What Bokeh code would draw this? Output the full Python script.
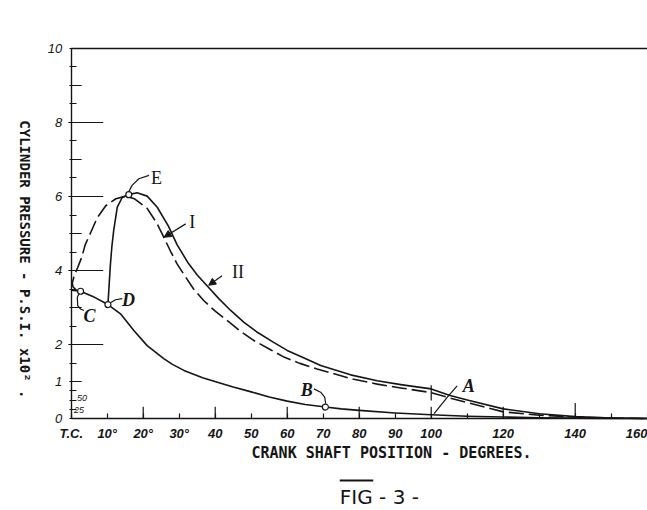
import math
from bokeh.plotting import figure
from bokeh.models import FixedTicker, Label, Arrow, NormalHead
from bokeh.embed import file_html
from bokeh.resources import INLINE
from bokeh.core.properties import value

# ---------------- data ----------------
# Curve I (dashed)
curve1_deg = [1.4, 0.5, 0.3, 0.8, 1.8, 2.9, 3.9, 5.3, 7.2, 9.6, 12.4, 15.2, 17.5, 21.1,
              23.9, 25.7, 27.6, 29.4, 31.8, 34, 36.8, 40, 43.3, 47, 50.7, 55, 59.1, 63.5,
              68.3, 77.6, 85, 92, 100, 105, 110, 120, 130, 140, 150, 160]
curve1_psi = [3.47, 3.56, 3.66, 3.85, 4.08, 4.35, 4.7, 5.0, 5.42, 5.75, 5.94, 6.01, 5.94, 5.68,
              5.26, 4.9, 4.52, 4.18, 3.82, 3.5, 3.19, 2.9, 2.65, 2.36, 2.11, 1.88, 1.66, 1.49,
              1.34, 1.08, 0.93, 0.82, 0.70, 0.56, 0.43, 0.18, 0.09, 0.04, 0.01, 0.0]

# Curve II (solid, rising from point D)
curve2_deg = [10.2, 10.5, 10.9, 11.3, 11.8, 12.8, 14.2, 16.0, 18.3, 21.1, 23.9, 27, 29.4,
              32.5, 35, 37.8, 41, 44.3, 48, 51.7, 56, 60, 65, 69.3, 77.6, 85, 92, 100,
              105, 110, 120, 130, 140, 150, 160]
curve2_psi = [3.08, 3.55, 4.18, 4.65, 5.08, 5.71, 5.98, 6.05, 6.1, 6.01, 5.71, 5.2, 4.7,
              4.2, 3.88, 3.58, 3.24, 2.92, 2.6, 2.33, 2.07, 1.84, 1.62, 1.43, 1.18, 1.02,
              0.91, 0.80, 0.63, 0.5, 0.26, 0.13, 0.05, 0.015, 0.0]

# Lower solid curve (T.C. -> C -> D -> B -> end)
motor_deg = [0, 2.6, 6, 10.2, 13.7, 17.4, 21.1, 25.7, 28, 31.3, 36.5, 40.6, 45, 50, 55,
             60, 65, 70.6, 75, 80, 90, 100, 110, 120, 130, 140, 150, 160]
motor_psi = [3.47, 3.44, 3.3, 3.08, 2.83, 2.38, 1.97, 1.62, 1.47, 1.3, 1.1, 0.98, 0.85, 0.72,
             0.58, 0.47, 0.38, 0.31, 0.26, 0.22, 0.15, 0.10, 0.06, 0.04, 0.02, 0.01, 0.005, 0.0]

# Marked points
point_names = ["C", "D", "E", "B"]
point_deg = [2.6, 10.2, 16.0, 70.6]
point_psi = [3.44, 3.08, 6.05, 0.31]

# Axis ticks
xtick_vals = [0, 10, 20, 30, 40, 50, 60, 70, 80, 90, 100, 110, 120, 130, 140, 150, 160]
xtick_labels = ["T.C.", "10°", "20°", "30°", "40", "50", "60", "70", "80", "90", "100",
                "", "120", "", "140", "", "160"]
ytick_vals = [0, 0.25, 0.5, 0.75, 1, 1.5, 2, 2.5, 3, 3.5, 4, 4.5, 5, 5.5, 6, 6.5, 7, 7.5,
              8, 8.5, 9, 9.5, 10]
ylabel_vals = [0, 1, 2, 4, 6, 8, 10]
ylabel_text = ["0", "1", "2", "4", "6", "8", "10"]

x_title = "CRANK SHAFT POSITION - DEGREES."
y_title = "CYLINDER PRESSURE - P.S.I. x10² ."
fig_title = "FIG - 3 -"

INK = "#151515"

# ---------------- figure ----------------
# the frame fills the whole canvas; the axes are pinned at 0 with fixed_location
p = figure(width=647, height=510, x_range=(-19.64, 160.08), y_range=(-2.486, 11.297),
           output_backend="svg", toolbar_location=None,
           min_border=0, min_border_left=0, min_border_right=0,
           min_border_top=0, min_border_bottom=0)
p.outline_line_color = None
p.xgrid.visible = False
p.ygrid.visible = False
p.background_fill_color = "white"
p.border_fill_color = "white"

xa = p.xaxis[0]
xa.fixed_location = 0
xa.bounds = (0, 160)
xa.ticker = FixedTicker(ticks=xtick_vals, minor_ticks=[])
xa.major_label_overrides = {float(v): s for v, s in zip(xtick_vals, xtick_labels)}
xa.major_tick_in = 5
xa.major_tick_out = 0
xa.major_label_standoff = 7
xa.axis_line_width = 1.4
xa.axis_line_color = INK
xa.major_tick_line_color = INK
xa.major_tick_line_width = 1.2
xa.major_label_text_color = INK
xa.major_label_text_font = "Liberation Sans"
xa.major_label_text_font_style = "bold italic"
xa.major_label_text_font_size = "13px"

ya = p.yaxis[0]
ya.fixed_location = 0
ya.bounds = (0, 10)
ya.ticker = FixedTicker(ticks=ytick_vals, minor_ticks=[])
ov = {float(v): "" for v in ytick_vals}
for v, s in zip(ylabel_vals, ylabel_text):
    ov[float(v)] = s
ya.major_label_overrides = ov
ya.major_tick_in = 5
ya.major_tick_out = 2
ya.major_label_standoff = 7
ya.axis_line_width = 1.4
ya.axis_line_color = INK
ya.major_tick_line_color = INK
ya.major_tick_line_width = 1.2
ya.major_label_text_color = INK
ya.major_label_text_font = "Liberation Sans"
ya.major_label_text_font_style = "italic"
ya.major_label_text_font_size = "13px"

# top border line at 10
p.segment(x0=[0], y0=[10], x1=[160.08], y1=[10], line_color=INK, line_width=1.4)

# longer ticks on the y axis (odd = medium, even = long)
odd = [v for v in ytick_vals if v in (1, 3, 5, 7, 9)]
even = [v for v in ytick_vals if v in (2, 4, 6, 8)]
p.segment(x0=[-0.4] * len(odd), y0=odd, x1=[2.9] * len(odd), y1=odd, line_color=INK, line_width=1.2)
p.segment(x0=[-0.8] * len(even), y0=even, x1=[8.9] * len(even), y1=even, line_color=INK, line_width=1.2)

# taller ticks on the x axis
tall = [v for v in xtick_vals if v in (20, 40, 60, 80, 100, 120)]
p.segment(x0=tall, y0=[0] * len(tall), x1=tall, y1=[0.32] * len(tall), line_color=INK, line_width=1.2)
p.segment(x0=[140], y0=[0], x1=[140], y1=[0.42], line_color=INK, line_width=1.2)
# mark across the curves at 100 degrees
p.segment(x0=[100], y0=[0.49], x1=[100], y1=[0.9], line_color=INK, line_width=1.2)

# small .50 / .25 labels
p.text(x=[3.0, 2.2], y=[0.55, 0.24], text=["50", "25"], text_font=value("Liberation Sans"),
       text_font_style="italic", text_font_size="9px", text_align="center",
       text_baseline="middle", text_color=INK)

# curves
p.line(motor_deg, motor_psi, line_color=INK, line_width=1.6, line_join="round")
p.line(curve2_deg, curve2_psi, line_color=INK, line_width=1.6, line_join="round")
p.line(curve1_deg, curve1_psi, line_color=INK, line_width=1.6, line_dash="15 5",
       line_join="round")

# leaders
leaders = [
    ([21.6, 18.8, 16.9, 16.0], [6.57, 6.48, 6.3, 6.13]),          # E
    ([14.2, 12.3, 10.8], [3.24, 3.21, 3.12]),                     # D
    ([2.4, 1.7, 1.8, 2.6, 3.5], [3.42, 3.28, 3.05, 2.96, 2.92]),  # C
    ([67.4, 69.3, 70.4, 70.7], [0.80, 0.71, 0.58, 0.40]),         # B
    ([107.2, 104.5, 100.8], [0.88, 0.58, 0.13]),                  # A
]
for lx, ly in leaders:
    p.line(lx, ly, line_color=INK, line_width=1.2)

p.add_layout(Arrow(end=NormalHead(size=7, fill_color=INK, line_color=INK),
                   x_start=31.8, y_start=5.26, x_end=25.8, y_end=4.9,
                   line_color=INK, line_width=1.2))
p.add_layout(Arrow(end=NormalHead(size=7, fill_color=INK, line_color=INK),
                   x_start=41.9, y_start=3.86, x_end=38.2, y_end=3.6,
                   line_color=INK, line_width=1.2))

# marked points
p.scatter(point_deg, point_psi, size=6, marker="circle", fill_color="white",
          line_color=INK, line_width=1.2)

# letters
p.text(x=[23.7, 33.6, 46.3], y=[6.51, 5.31, 3.96], text=["E", "I", "II"],
       text_font=value("Liberation Serif"), text_font_size="18px",
       text_align="center", text_baseline="middle", text_color=INK)
p.text(x=[15.9, 5.1, 65.4, 110.4], y=[3.19, 2.78, 0.78, 0.89], text=["D", "C", "B", "A"],
       text_font=value("Liberation Serif"), text_font_style="bold italic", text_font_size="18px",
       text_align="center", text_baseline="middle", text_color=INK)

# titles
p.add_layout(Label(x=88.97, y=-0.92, text=x_title, text_font="DejaVu Sans Mono",
                   text_font_size="15px", text_font_style="bold", text_color=INK,
                   text_align="center", text_baseline="middle"))
p.add_layout(Label(x=-12.7, y=4.3, text=y_title, text_font="DejaVu Sans Mono",
                   text_font_size="14px", text_font_style="bold", text_color=INK,
                   text_align="center", text_baseline="middle", angle=-math.pi / 2))
p.add_layout(Label(x=85.6, y=-2.108, text=fig_title, text_font="DejaVu Sans",
                   text_font_size="20px", text_color=INK,
                   text_align="center", text_baseline="alphabetic"))
p.segment(x0=[74.6], y0=[-1.676], x1=[83.9], y1=[-1.676], line_color=INK, line_width=2)

open("out.html", "w").write(file_html(p, INLINE))
